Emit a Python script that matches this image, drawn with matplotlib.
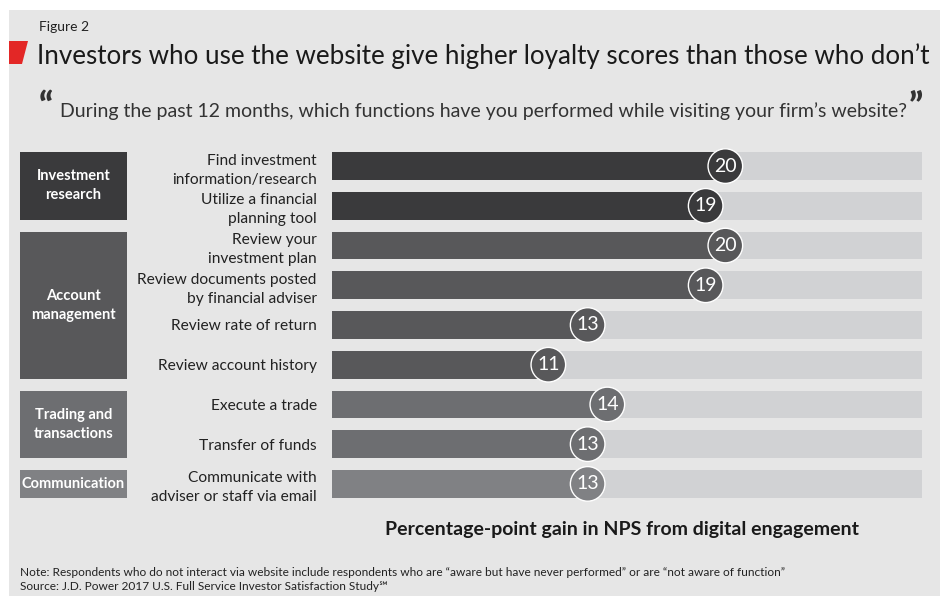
import matplotlib
matplotlib.use("Agg")
import matplotlib.pyplot as plt
from matplotlib.patches import Rectangle, Polygon

plt.rcParams['font.family'] = ['Lato', 'DejaVu Sans']

# data
labels = ["Find investment\ninformation/research", "Utilize a financial\nplanning tool",
          "Review your\ninvestment plan", "Review documents posted\nby financial adviser",
          "Review rate of return", "Review account history", "Execute a trade",
          "Transfer of funds", "Communicate with\nadviser or staff via email"]
values = [20, 19, 20, 19, 13, 11, 14, 13, 13]
groups = ["Investment\nresearch", "Account\nmanagement", "Trading and\ntransactions", "Communication"]
group_sizes = [2, 4, 2, 1]
group_colors = ["#3a3a3c", "#58585a", "#6d6e71", "#808184"]
x_max = 30

W, H = 950, 615
def fx(x): return x / W
def fy(y): return 1 - y / H

fig = plt.figure(figsize=(9.5, 6.15), dpi=100)
fig.patch.set_facecolor("white")
fig.patches.append(Rectangle((fx(9), fy(596)), fx(940) - fx(9), fy(10) - fy(596),
                             transform=fig.transFigure, facecolor="#e6e6e6", edgecolor="none", zorder=-2))
fig.patches.append(Polygon([(fx(9), fy(41)), (fx(28), fy(41)), (fx(22), fy(64)), (fx(9), fy(64))],
                           closed=True, transform=fig.transFigure, facecolor="#e32726", edgecolor="none", zorder=1))

fig.text(fx(39), fy(27), "Figure 2", fontsize=10, color="#222222", va="center", ha="left")
fig.text(fx(37), fy(56), "Investors who use the website give higher loyalty scores than those who don\u2019t",
         fontsize=18.7, color="#1a1a1a", va="center", ha="left")
q = fig.text(fx(60), fy(111), "During the past 12 months, which functions have you performed while visiting your firm\u2019s website?",
             fontsize=14, color="#333333", va="center", ha="left")
fig.text(fx(39), fy(107), "\u201c", fontsize=26, fontweight="black", color="#333333", va="center", ha="left")

# row positions
n = len(values)
rows = list(range(n))
row_colors = []
for c, s in zip(group_colors, group_sizes):
    row_colors += [c] * s

top_px, bot_px = 166 - 19.75, 484 + 19.75
ax = fig.add_axes([fx(332), fy(bot_px), fx(922) - fx(332), fy(top_px) - fy(bot_px)])
ax.set_facecolor("none")
bh = 0.70
ax.barh(rows, [x_max] * n, height=bh, color="#d1d2d4", zorder=1)
ax.barh(rows, values, height=bh, color=row_colors, zorder=2)
ax.scatter(values, rows, s=620, c=row_colors, edgecolors="white", linewidths=1, zorder=3)
for v, r in zip(values, rows):
    ax.text(v, r, str(v), color="white", fontsize=14, ha="center", va="center", zorder=4)
ax.set_xlim(0, x_max)
ax.set_ylim(n - 0.5, -0.5)
ax.set_yticks(rows)
ax.set_yticklabels(labels, fontsize=11.2, color="#222222", linespacing=1.45)
ax.tick_params(axis="y", length=0, pad=11)
ax.set_xticks([])
for sp in ax.spines.values():
    sp.set_visible(False)
ax.set_xlabel("Percentage-point gain in NPS from digital engagement", fontsize=14,
              fontweight="bold", color="#1a1a1a")
ax.xaxis.set_label_coords(0.4915, -0.048)

# group boxes
gax = fig.add_axes([fx(20), fy(bot_px), fx(127) - fx(20), fy(top_px) - fy(bot_px)])
gax.set_facecolor("none")
start = 0
for g, s, c in zip(groups, group_sizes, group_colors):
    center = start + (s - 1) / 2
    gax.barh(center, 1, height=(s - 1) + bh, color=c)
    gax.text(0.5, center, g, color="white", fontsize=10.5, fontweight="bold",
             ha="center", va="center", linespacing=1.45)
    start += s
gax.set_xlim(0, 1)
gax.set_ylim(n - 0.5, -0.5)
gax.axis("off")

fig.text(fx(20), fy(572), "Note: Respondents who do not interact via website include respondents who are \u201caware but have never performed\u201d or are \u201cnot aware of function\u201d",
         fontsize=8.6, color="#222222", va="center", ha="left")
fig.text(fx(20), fy(587), "Source: J.D. Power 2017 U.S. Full Service Investor Satisfaction Study\u2120",
         fontsize=8.6, color="#222222", va="center", ha="left")

fig.canvas.draw()
bb = q.get_window_extent()
fig.text(bb.x1 / W + 0.002, fy(107), "\u201d", fontsize=26, fontweight="black", color="#333333", va="center", ha="left")

fig.savefig("out.png", dpi=100)
